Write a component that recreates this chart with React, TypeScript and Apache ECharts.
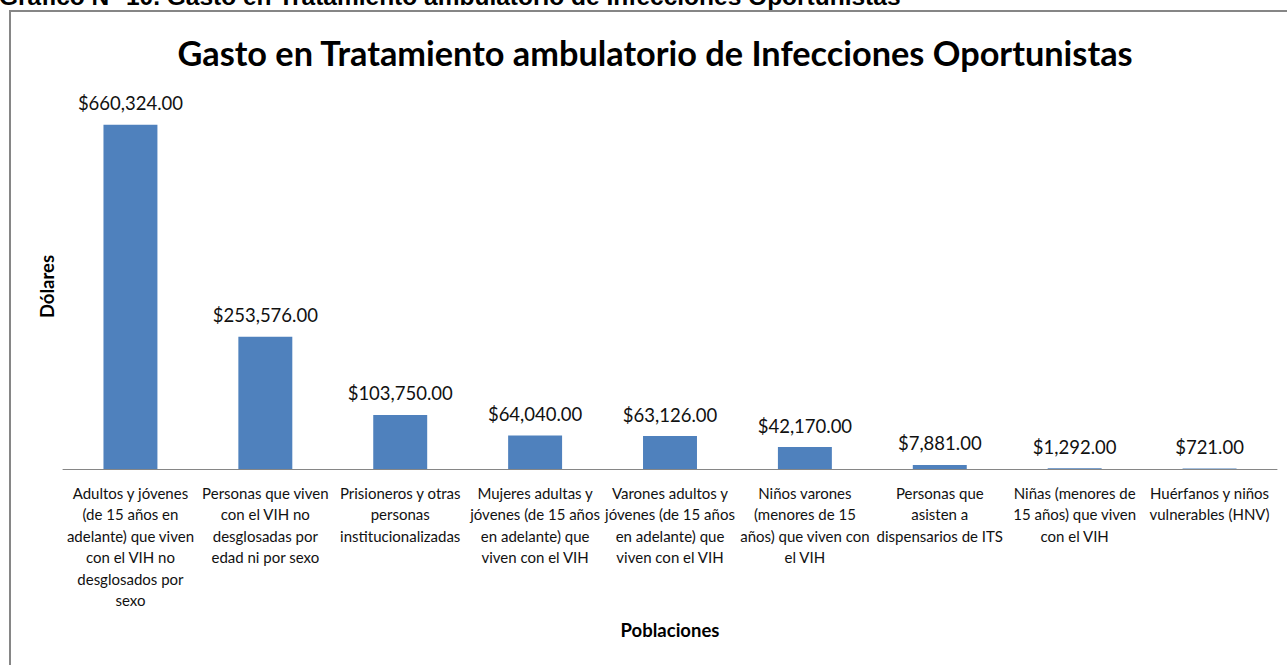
import React, { useEffect, useRef } from "react";
import * as echarts from "echarts";

const categories = [
  "Adultos y jóvenes\n(de 15 años en\nadelante) que viven\ncon el VIH no\ndesglosados por\nsexo",
  "Personas que viven\ncon el VIH no\ndesglosadas por\nedad ni por sexo",
  "Prisioneros y otras\npersonas\ninstitucionalizadas",
  "Mujeres adultas y\njóvenes (de 15 años\nen adelante) que\nviven con el VIH",
  "Varones adultos y\njóvenes (de 15 años\nen adelante) que\nviven con el VIH",
  "Niños varones\n(menores de 15\naños) que viven con\nel VIH",
  "Personas que\nasisten a\ndispensarios de ITS",
  "Niñas (menores de\n15 años) que viven\ncon el VIH",
  "Huérfanos y niños\nvulnerables (HNV)",
];
const values = [660324, 253576, 103750, 64040, 63126, 42170, 7881, 1292, 721];

const headerText = "Gráfico N° 10. Gasto en Tratamiento ambulatorio de Infecciones Oportunistas";
const titleText = "Gasto en Tratamiento ambulatorio de Infecciones Oportunistas";
const xName = "Poblaciones";
const yName = "Dólares";

const FONT = "Lato, 'Open Sans', sans-serif";

function fmt(v: number): string {
  return "$" + v.toLocaleString("en-US", { minimumFractionDigits: 2, maximumFractionDigits: 2 });
}

export default function App() {
  const ref = useRef<HTMLDivElement>(null);
  useEffect(() => {
    if (!ref.current) return;
    const chart = echarts.init(ref.current, undefined, { renderer: "svg" });
    chart.setOption({
      animation: false,
      backgroundColor: "#ffffff",
      textStyle: { fontFamily: FONT },
      title: {
        text: titleText,
        left: 650,
        textAlign: "center",
        top: 30,
        textStyle: { fontFamily: FONT, fontWeight: "bold", fontSize: 34.3, color: "#000" },
      },
      grid: { left: 63, right: 10, top: 104, bottom: 196 },
      xAxis: {
        type: "category",
        data: categories,
        axisTick: { show: false },
        axisLine: { lineStyle: { color: "#868686", width: 1 } },
        axisLabel: {
          interval: 0,
          fontSize: 15,
          lineHeight: 21.5,
          color: "#111",
          fontFamily: FONT,
          margin: 13,
        },
        name: xName,
        nameLocation: "middle",
        nameGap: 151,
        nameTextStyle: { fontFamily: FONT, fontWeight: "bold", fontSize: 18.5, color: "#000" },
      },
      yAxis: {
        type: "value",
        min: 0,
        max: 700000,
        axisLine: { show: false },
        axisTick: { show: false },
        axisLabel: { show: false },
        splitLine: { show: false },
        name: yName,
        nameLocation: "middle",
        nameGap: 7,
        nameRotate: 90,
        nameTextStyle: { fontFamily: FONT, fontWeight: "bold", fontSize: 18.5, color: "#000" },
      },
      series: [
        {
          type: "bar",
          data: values,
          barWidth: "40%",
          itemStyle: { color: "#4F81BD" },
          label: {
            show: true,
            position: "top",
            distance: 12,
            fontSize: 18.5,
            fontFamily: FONT,
            color: "#111",
            formatter: (p: any) => fmt(p.value),
          },
        },
      ],
      graphic: [
        {
          type: "rect",
          shape: { x: 10, y: 11, width: 1400, height: 800 },
          style: { fill: "none", stroke: "#868686", lineWidth: 2 },
          silent: true,
        },
        {
          type: "text",
          x: -1,
          y: 9,
          style: {
            text: headerText,
            fontFamily: "'Liberation Sans', Arial, sans-serif",
            fontWeight: "bold",
            fontSize: 24.5,
            fill: "#000",
            verticalAlign: "bottom",
          },
        },
      ],
    });
    return () => chart.dispose();
  }, []);
  return (
    <div
      ref={ref}
      style={{ position: "absolute", left: 0, top: 0, width: 1287, height: 665 }}
    />
  );
}
